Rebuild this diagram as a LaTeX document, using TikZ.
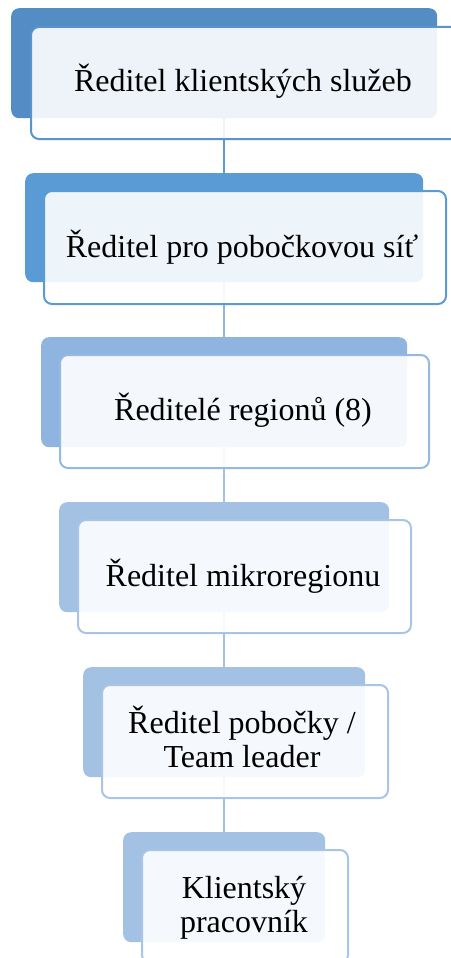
\documentclass[tikz,border=0pt]{standalone}
\usepackage{fontspec}
\setmainfont{Liberation Serif}
\pgfdeclarelayer{background}
\pgfsetlayers{background,main}
\definecolor{cA}{HTML}{548DC4}
\definecolor{cAl}{HTML}{5A94CE}
\definecolor{cB}{HTML}{5B9BD5}
\definecolor{cC}{HTML}{8FB4DF}
\definecolor{cCl}{HTML}{95B9E3}
\definecolor{cD}{HTML}{A3C1E3}
\definecolor{cDl}{HTML}{A8C4E6}
\begin{document}
\begin{tikzpicture}[x=1pt,y=-1pt,
  backbox/.style={rounded corners=8pt, fill=#1, draw=none, inner sep=0pt, anchor=north west},
  frontbox/.style={rounded corners=8pt, draw=#1, line width=2pt, fill=white, fill opacity=0.9, inner sep=0pt, anchor=north west},
  lbl/.style={font=\fontsize{32}{33.5}\selectfont, inner sep=0pt, align=center, text=black, anchor=base},
  conn/.style={line width=2pt, draw=#1}]
\useasboundingbox (0,0) rectangle (450,958);
% box 1
\node[backbox=cA, minimum width=426pt, minimum height=110pt] (b1) at (11,8) {};
\node[frontbox=cAl, minimum width=430pt, minimum height=112pt] (f1) at (30,26) {};
\node[lbl] (t1) at (243,91) {Ředitel klientských služeb};
% box 2
\node[backbox=cB, minimum width=398pt, minimum height=109pt] (b2) at (25,173) {};
\node[frontbox=cB, minimum width=402pt, minimum height=113pt] (f2) at (43,190) {};
\node[lbl] (t2) at (242,257) {Ředitel pro pobočkovou síť};
% box 3
\node[backbox=cC, minimum width=366pt, minimum height=110pt] (b3) at (41,337) {};
\node[frontbox=cCl, minimum width=369pt, minimum height=113pt] (f3) at (59,354) {};
\node[lbl] (t3) at (243,420) {Ředitelé regionů (8)};
% box 4
\node[backbox=cD, minimum width=330pt, minimum height=110pt] (b4) at (59,502) {};
\node[frontbox=cDl, minimum width=333pt, minimum height=113pt] (f4) at (77,519) {};
\node[lbl] (t4) at (243,586) {Ředitel mikroregionu};
% box 5
\node[backbox=cD, minimum width=282pt, minimum height=110pt] (b5) at (83,667) {};
\node[frontbox=cDl, minimum width=286pt, minimum height=113pt] (f5) at (101,684) {};
\node[lbl] (t5) at (242,767) {Ředitel pobočky /\\Team leader};
% box 6
\node[backbox=cD, minimum width=202pt, minimum height=110pt] (b6) at (123,832) {};
\node[frontbox=cDl, minimum width=206pt, minimum height=113pt] (f6) at (141,849) {};
\node[lbl] (t6) at (244,932) {Klientský\\pracovník};
% connectors
\begin{pgfonlayer}{background}
\draw[conn=cB] (b1.south) -- (b2.north);
\draw[conn=cC] (b2.south) -- (b3.north);
\draw[conn=cD] (b3.south) -- (b4.north);
\draw[conn=cD] (b4.south) -- (b5.north);
\draw[conn=cD] (b5.south) -- (b6.north);
\end{pgfonlayer}
\end{tikzpicture}
\end{document}
